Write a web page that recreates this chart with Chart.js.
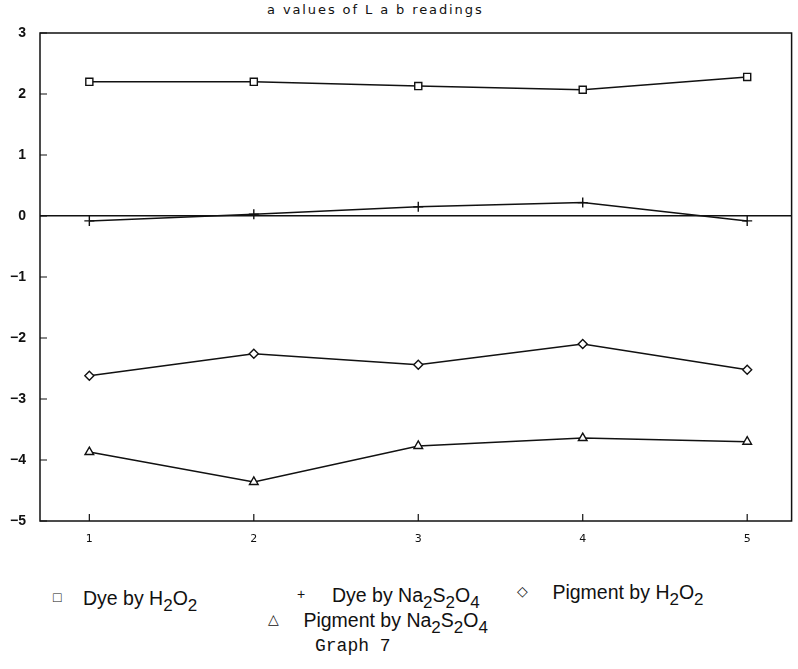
<!DOCTYPE html>
<html>
<head>
<meta charset="utf-8">
<script src="https://cdn.jsdelivr.net/npm/chart.js@4/dist/chart.umd.min.js"></script>
<style>
  body { margin: 0; background: #fff; }
  #wrap { position: relative; width: 798px; height: 669px; }
  #chartBox { position: absolute; left: 0; top: 0; width: 798px; height: 560px; }
  .title { position: absolute; left: 267px; top: 2px; font: 13px "DejaVu Sans", sans-serif; letter-spacing: 1.9px; color: #111; }
  .lg { position: absolute; font: 19.5px "Liberation Sans", Arial, sans-serif; color: #111; white-space: nowrap; }
  .lg .m { display: inline-block; width: 30px; font-size: 14px; vertical-align: 3px; }
  .lg sub { font-size: 17px; vertical-align: -6px; }
  .graph { position: absolute; left: 315px; top: 636px; font: 18px "Liberation Mono", "Courier New", monospace; color: #111; }
</style>
</head>
<body>
<div id="wrap">
  <div class="title">a values of L a b readings</div>
  <div id="chartBox"><canvas id="labChart"></canvas></div>
  <div class="lg" style="left:53px; top:587px;"><span class="m">&#9633;</span>Dye by H<sub>2</sub>O<sub>2</sub></div>
  <div class="lg" style="left:297px; top:584px;"><span class="m" style="width:35px">+</span>Dye by Na<sub>2</sub>S<sub>2</sub>O<sub>4</sub></div>
  <div class="lg" style="left:517px; top:581px;"><span class="m">&#9671;</span>&nbsp;Pigment by H<sub>2</sub>O<sub>2</sub></div>
  <div class="lg" style="left:268px; top:609px;"><span class="m">&#9651;</span>&nbsp;Pigment by Na<sub>2</sub>S<sub>2</sub>O<sub>4</sub></div>
  <div class="graph">Graph 7</div>
</div>
<script>
const samples = [1, 2, 3, 4, 5];
const dyeH2O2 = [2.2, 2.2, 2.13, 2.07, 2.28];
const dyeNa2S2O4 = [-0.08, 0.03, 0.15, 0.22, -0.08];
const pigmentH2O2 = [-2.62, -2.26, -2.44, -2.1, -2.52];
const pigmentNa2S2O4 = [-3.87, -4.36, -3.77, -3.64, -3.7];
const yTicks = [3, 2, 1, 0, -1, -2, -3, -4, -5];

const toPoints = vals => vals.map((v, i) => ({ x: samples[i], y: v }));

// frame + inward tick marks, like the old plotter output
const frameTicks = {
    id: 'frameTicks',
    afterDraw(chart) {
        const { ctx, chartArea: a, scales } = chart;
        ctx.save();
        ctx.strokeStyle = '#111';
        ctx.lineWidth = 1.5;
        ctx.strokeRect(a.left, a.top, a.right - a.left, a.bottom - a.top);
        ctx.lineWidth = 1.2;
        ctx.beginPath();
        yTicks.forEach(t => {
            const py = scales.y.getPixelForValue(t);
            ctx.moveTo(a.left, py);
            ctx.lineTo(a.left + 7, py);
        });
        samples.forEach(t => {
            const px = scales.x.getPixelForValue(t);
            ctx.moveTo(px, a.bottom);
            ctx.lineTo(px, a.bottom - 7);
        });
        ctx.stroke();
        ctx.restore();
    }
};

function series(label, vals, style, radius, fill) {
    return {
        label: label,
        data: toPoints(vals),
        borderColor: '#111',
        borderWidth: 1.5,
        pointStyle: style,
        pointRadius: radius,
        pointBorderColor: '#111',
        pointBorderWidth: 1.4,
        pointBackgroundColor: fill,
        tension: 0
    };
}

new Chart(document.getElementById('labChart').getContext('2d'), {
    type: 'line',
    data: {
        datasets: [
            series('Dye by H2O2', dyeH2O2, 'rect', 5, '#fff'),
            series('Dye by Na2S2O4', dyeNa2S2O4, 'cross', 5, '#fff'),
            series('Pigment by H2O2', pigmentH2O2, 'rectRot', 4.5, '#fff'),
            series('Pigment by Na2S2O4', pigmentNa2S2O4, 'triangle', 5, '#fff')
        ]
    },
    options: {
        responsive: true,
        maintainAspectRatio: false,
        animation: false,
        layout: { padding: { top: 33, right: 3, left: 0, bottom: 0 } },
        plugins: { legend: { display: false }, tooltip: { enabled: false } },
        scales: {
            x: {
                type: 'linear',
                min: 0.7,
                max: 5.27,
                afterBuildTicks: s => { s.ticks = samples.map(v => ({ value: v })); },
                afterFit: s => { s.height = 39; },
                grid: { display: false, drawTicks: false },
                border: { display: false },
                ticks: { color: '#111', padding: 12, font: { family: 'DejaVu Sans', size: 11 } }
            },
            y: {
                type: 'linear',
                min: -5,
                max: 3,
                afterBuildTicks: s => { s.ticks = yTicks.map(v => ({ value: v })); },
                afterFit: s => { s.width = 40; },
                grid: {
                    drawTicks: false,
                    color: c => c.tick && c.tick.value === 0 ? '#111' : 'rgba(0,0,0,0)',
                    lineWidth: 1.5
                },
                border: { display: false },
                ticks: {
                    color: '#111',
                    padding: 14,
                    font: { family: 'Liberation Sans', size: 14, weight: 'bold' },
                    callback: v => v < 0 ? '\u2212' + Math.abs(v) : String(v)
                }
            }
        }
    },
    plugins: [frameTicks]
});
</script>
</body>
</html>
